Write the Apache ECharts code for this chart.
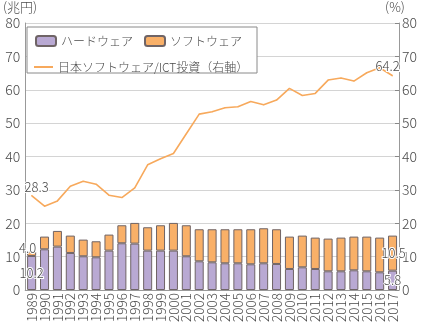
<!DOCTYPE html>
<html><head><meta charset="utf-8">
<script src="https://cdn.jsdelivr.net/npm/echarts@6/dist/echarts.min.js"></script>
<style>html,body{margin:0;padding:0;background:#fff}#c{width:422px;height:328px}</style>
</head><body><div id="c"></div>
<script>
const years = ['1989','1990','1991','1992','1993','1994','1995','1996','1997','1998','1999','2000','2001','2002','2003','2004','2005','2006','2007','2008','2009','2010','2011','2012','2013','2014','2015','2016','2017'];
const hardware = [10.2,12.2,13.0,11.1,10.1,9.8,11.8,14.0,13.9,11.8,11.8,11.8,10.1,8.6,8.3,8.0,8.0,7.7,8.0,7.8,6.3,6.8,6.3,5.6,5.6,5.9,5.6,5.3,5.8];
const software = [1.3,3.8,4.7,5.2,5.0,4.8,4.8,5.4,6.2,7.0,7.6,8.3,9.3,9.6,9.9,10.2,10.2,10.5,10.5,10.4,9.7,9.5,9.4,9.8,10.1,10.1,10.4,10.4,10.5];
const ictRatio = [28.3,25.1,26.7,31.1,32.6,31.7,28.4,27.7,30.6,37.5,39.3,40.9,46.8,52.7,53.4,54.6,54.9,56.5,55.5,56.9,60.4,58.3,58.9,62.9,63.5,62.6,65.1,66.6,64.2];
const hwLabels = {0:'10.2', 28:'5.8'};
const swLabels = {0:'4.0', 28:'10.5'};
const lineLabels = {0:'28.3', 28:'64.2'};

const FONT = '"Noto Sans CJK JP","Noto Sans",sans-serif';
const TXT = '#4a4a4a';
const W = 300;
const PURPLE = '#b9a9d3', ORANGE = '#f9b068', LINEC = '#f7a95c', BORDER = '#6f6466';
const lbl = {show:true, color:TXT, fontSize:13, fontWeight:W, fontFamily:FONT, textBorderColor:'#fff', textBorderWidth:2};

const chart = echarts.init(document.getElementById('c'), null, {renderer:'canvas'});
chart.setOption({
  animation:false,
  textStyle:{fontFamily:FONT, fontWeight:W},
  grid:{left:21, right:23, top:23, bottom:38, containLabel:false},
  graphic:[{type:'rect', z:3, shape:{x:27, y:27, width:230, height:46}, style:{fill:'#fff', stroke:'#8a8a8a', lineWidth:1}}],
  legend:[
    {left:35, top:35, padding:0, itemWidth:20, itemHeight:10, itemGap:11, z:5,
     data:['ハードウェア','ソフトウェア'], textStyle:{fontSize:12, color:TXT, fontWeight:W, fontFamily:FONT}},
    {left:34, top:61, padding:0, itemWidth:19, itemHeight:2, z:5,
     data:[{name:'日本ソフトウェア/ICT投資（右軸）', icon:'rect'}], textStyle:{fontSize:12, color:TXT, fontWeight:W, fontFamily:FONT}}
  ],
  xAxis:{type:'category', data:years, boundaryGap:true,
    axisLine:{lineStyle:{color:'#999'}}, axisTick:{show:false},
    axisLabel:{interval:0, rotate:90, color:TXT, fontSize:13.5, fontWeight:W, fontFamily:FONT, margin:3}},
  yAxis:[
    {type:'value', min:0, max:80, interval:10, name:'(兆円)', nameGap:9,
     nameTextStyle:{color:TXT, fontSize:13, fontWeight:W, fontFamily:FONT, align:'right', padding:[0,-12,0,0]},
     axisLine:{show:true, lineStyle:{color:'#999'}}, axisTick:{show:false},
     axisLabel:{color:TXT, fontSize:14, fontWeight:W, fontFamily:FONT, margin:5},
     splitLine:{lineStyle:{color:'#d4d4d4'}}},
    {type:'value', min:0, max:80, interval:10, name:'(%)', nameGap:9,
     nameTextStyle:{color:TXT, fontSize:13, fontWeight:W, fontFamily:FONT, align:'center', padding:[0,8,0,0]},
     axisLine:{show:true, lineStyle:{color:'#999'}}, axisTick:{show:true, inside:true, length:4, lineStyle:{color:'#888'}},
     axisLabel:{color:TXT, fontSize:14, fontWeight:W, fontFamily:FONT, margin:3},
     splitLine:{show:false}}
  ],
  series:[
    {name:'ハードウェア', type:'bar', stack:'t', barWidth:'70%', z:2,
     itemStyle:{color:PURPLE, borderColor:BORDER, borderWidth:1},
     data:hardware.map((v,i)=>hwLabels[i]?{value:v, label:Object.assign({}, lbl, {position:'inside', formatter:hwLabels[i], offset:[0,0]})}:v)},
    {name:'ソフトウェア', type:'bar', stack:'t', barWidth:'70%', z:2,
     itemStyle:{color:ORANGE, borderColor:BORDER, borderWidth:1},
     data:software.map((v,i)=>swLabels[i]?{value:v, label:Object.assign({}, lbl, {position:'inside', formatter:swLabels[i], offset:i===0?[-4,-6]:[1,0]})}:v)},
    {name:'日本ソフトウェア/ICT投資（右軸）', type:'line', yAxisIndex:1, z:3,
     symbol:'circle', symbolSize:1, itemStyle:{color:LINEC}, lineStyle:{color:LINEC, width:1.6},
     data:ictRatio.map((v,i)=>lineLabels[i]?{value:v, label:Object.assign({}, lbl, {position:'top', distance:2, formatter:lineLabels[i], offset:i===0?[5,1]:[-5,-1]})}:v)}
  ]
});
</script></body></html>
